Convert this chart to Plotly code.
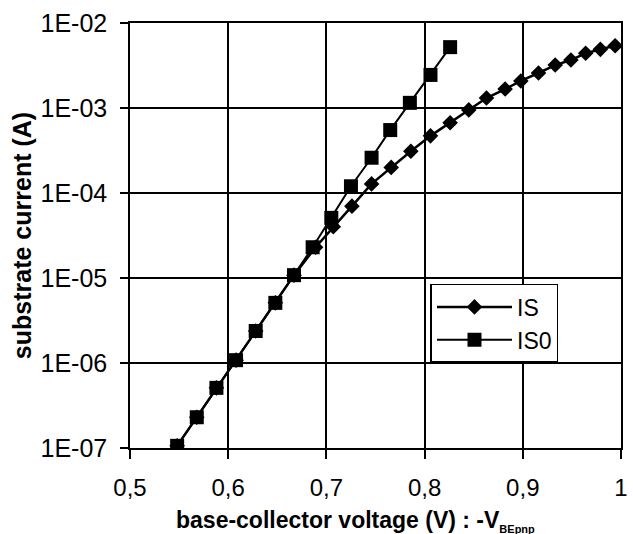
import plotly.graph_objects as go

# IS (diamonds)
is_v = [0.548, 0.568, 0.588, 0.608, 0.628, 0.648, 0.667, 0.689, 0.707, 0.726, 0.746,
        0.766, 0.786, 0.806, 0.826, 0.845, 0.863, 0.882, 0.898, 0.916, 0.933, 0.949,
        0.964, 0.979, 0.994]
is_i = [1.06e-7, 2.3e-7, 5.1e-7, 1.08e-6, 2.38e-6, 5.1e-6, 1.08e-5, 2.3e-5, 4.0e-5,
        7.0e-5, 1.28e-4, 2.0e-4, 3.1e-4, 4.7e-4, 6.7e-4, 9.5e-4, 1.31e-3, 1.67e-3,
        2.08e-3, 2.58e-3, 3.2e-3, 3.67e-3, 4.4e-3, 4.9e-3, 5.4e-3]

# IS0 (squares)
is0_v = [0.548, 0.568, 0.588, 0.608, 0.628, 0.648, 0.667, 0.686, 0.705, 0.725, 0.746,
         0.765, 0.785, 0.806, 0.826]
is0_i = [1.06e-7, 2.3e-7, 5.1e-7, 1.08e-6, 2.38e-6, 5.1e-6, 1.08e-5, 2.3e-5, 5.1e-5,
         1.2e-4, 2.6e-4, 5.5e-4, 1.15e-3, 2.45e-3, 5.2e-3]

x_ticks = [0.5, 0.6, 0.7, 0.8, 0.9, 1.0]
x_labels = ["0,5", "0,6", "0,7", "0,8", "0,9", "1"]
y_ticks = [1e-7, 1e-6, 1e-5, 1e-4, 1e-3, 1e-2]
y_labels = ["1E-07", "1E-06", "1E-05", "1E-04", "1E-03", "1E-02"]

x_title = "<b>base-collector voltage (V) : -V<sub><span style='font-size:11px'>BEpnp</span></sub></b>"
y_title = "<b>substrate current (A)</b>"

FONT = "Liberation Sans, Arial, sans-serif"

fig = go.Figure()
fig.add_trace(go.Scatter(
    x=is_v, y=is_i, name="IS", mode="lines+markers",
    line=dict(color="black", width=2.5),
    marker=dict(symbol="diamond", size=12, color="black"),
))
fig.add_trace(go.Scatter(
    x=is0_v, y=is0_i, name="IS0", mode="lines+markers",
    line=dict(color="black", width=2),
    marker=dict(symbol="square", size=14, color="black"),
))

fig.update_layout(
    width=633, height=534,
    margin=dict(l=130, r=5, t=23, b=86),
    paper_bgcolor="white", plot_bgcolor="white",
    font=dict(family=FONT, color="black", size=24),
    showlegend=True,
    legend=dict(
        x=0.612, y=0.386, xanchor="left", yanchor="top",
        bgcolor="white", bordercolor="black", borderwidth=1.5,
        font=dict(size=23, family=FONT),
        tracegroupgap=0, itemwidth=75,
    ),
    annotations=[
        dict(text=x_title, xref="paper", yref="paper", x=0.46, y=-0.172,
             xanchor="center", yanchor="middle", showarrow=False,
             font=dict(size=23, family=FONT)),
    ],
)
fig.update_xaxes(
    range=[0.5, 1.0], tickvals=x_ticks, ticktext=x_labels,
    showgrid=True, gridcolor="black", gridwidth=1.5,
    showline=True, linecolor="black", linewidth=1.5, mirror=True,
    ticks="outside", ticklen=9, tickcolor="black", tickwidth=1.5,
    ticklabelstandoff=8, zeroline=False,
    tickfont=dict(size=24, family=FONT),
)
fig.update_yaxes(
    type="log", range=[-7, -2], tickvals=y_ticks, ticktext=y_labels,
    showgrid=True, gridcolor="black", gridwidth=1.5,
    showline=True, linecolor="black", linewidth=1.5, mirror=True,
    ticks="outside", ticklen=8, tickcolor="black", tickwidth=1.5,
    ticklabelstandoff=8, zeroline=False,
    tickfont=dict(size=25, family=FONT),
    title=dict(text=y_title, font=dict(size=25, family=FONT), standoff=2),
)

fig.write_html("out.html")
